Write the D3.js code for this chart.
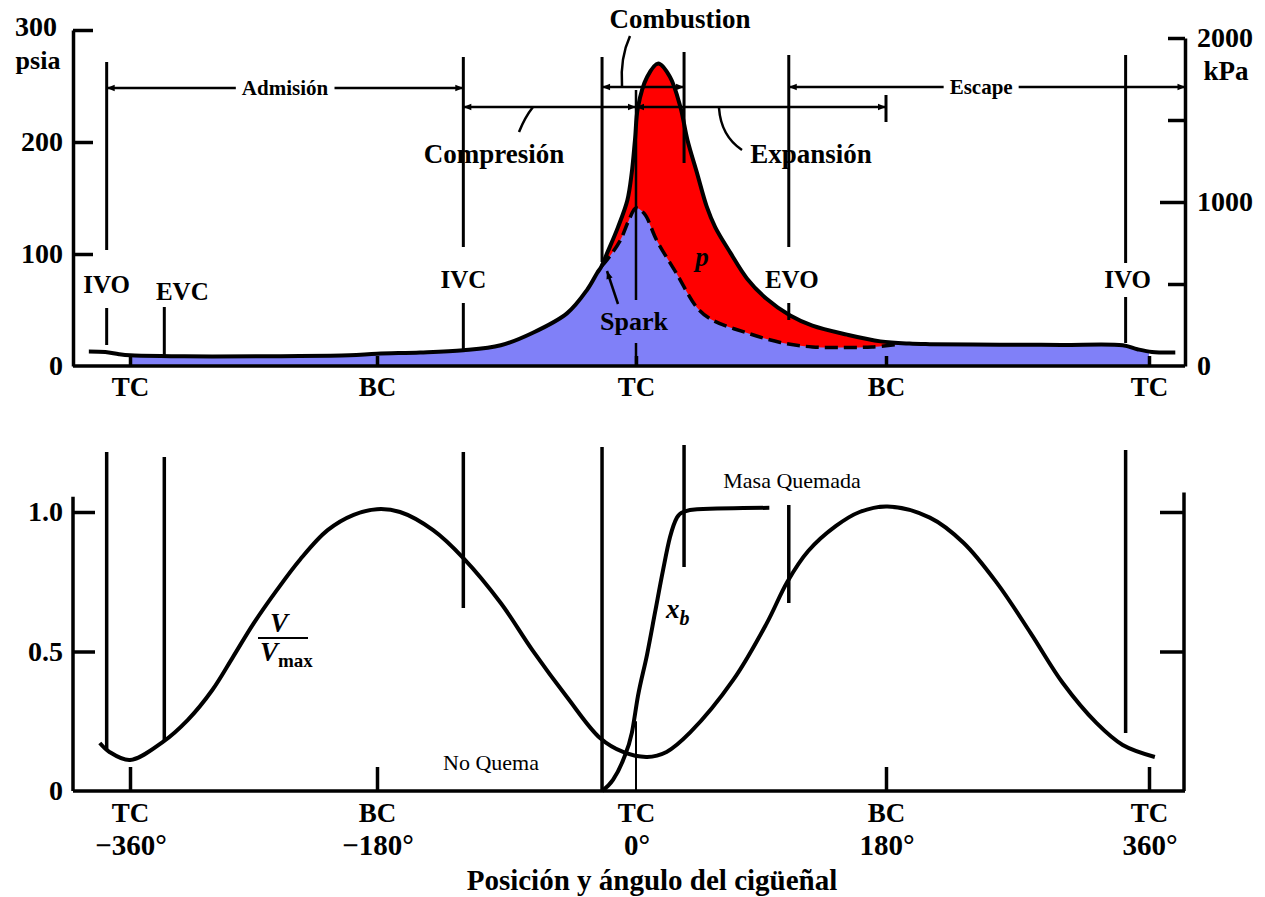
<!DOCTYPE html>
<html>
<head>
<meta charset="utf-8">
<title>Ciclo de cuatro tiempos</title>
<script src="https://d3js.org/d3.v7.min.js"></script>
<style>
  body { margin: 0; background: #fff; }
  text { font-family: "Liberation Serif", "Times New Roman", serif; fill: #000; }
</style>
</head>
<body>
<div id="container"></div>
<script>
// crank angle (deg) vs cylinder pressure (psia), firing cycle
const firingAngle = [-390, -378, -368, -360, -330, -300, -250, -200, -180, -150, -120, -94, -72, -48, -34, -27, -24, -20, -12.5, -6, -3, -0.7, 1.4, 8, 16, 24.5, 32, 37, 44, 51, 57, 68, 80, 94, 111, 127, 152, 176, 196, 210, 258, 300, 342, 352, 362, 378];
const firingPsia  = [13, 12.5, 10.5, 9.5, 8.8, 8.5, 8.8, 9.5, 11, 12, 14, 18.5, 29.5, 47, 68, 83, 89, 101, 124, 148, 172, 202, 231, 258, 270, 258, 231, 202, 172, 142, 124, 101, 78, 60, 45, 36, 28, 22, 20, 19.5, 19, 18.8, 18.5, 15, 12.5, 12];

// motored (no combustion) pressure, psia
const motoredAngle = [-360, -330, -300, -250, -200, -180, -150, -120, -94, -72, -48, -34, -27, -24, -20, -11, -5, 0, 6, 15, 29, 44, 55, 80, 104, 127, 150, 170, 190, 210, 258, 300, 342, 352, 360];
const motoredPsia  = [9.5, 8.8, 8.5, 8.8, 9.5, 11, 12, 14, 18.5, 29.5, 47, 68, 83, 89, 95, 112, 130, 141, 136, 112, 83, 52, 41, 29.5, 21, 17, 16.5, 17, 19.5, 19.5, 19, 18.8, 18.5, 15, 13];

// V / Vmax
const volAngle = [-382, -375, -360, -336, -318, -300, -285, -270, -253, -236, -216, -197, -180, -164, -141, -120, -94, -72, -48, -25, -9, 8, 22, 39, 70, 94, 109, 124, 144, 161, 181, 210, 233, 256, 279, 301, 324, 342, 364];
const volRatio = [0.172, 0.14, 0.111, 0.176, 0.254, 0.362, 0.48, 0.60, 0.72, 0.83, 0.935, 0.99, 1.01, 1.0, 0.935, 0.835, 0.674, 0.505, 0.337, 0.19, 0.14, 0.122, 0.14, 0.21, 0.398, 0.60, 0.75, 0.86, 0.95, 1.0, 1.02, 0.98, 0.89, 0.745, 0.566, 0.387, 0.244, 0.165, 0.122];

// mass fraction burned x_b
const burnAngle = [-23.6, -16, -9, -2.8, 1.4, 8, 13.7, 19.4, 24.5, 29.5, 34, 44, 96];
const burnFrac  = [0, 0.04, 0.11, 0.21, 0.34, 0.49, 0.64, 0.79, 0.91, 0.98, 1.0, 1.01, 1.015];

const tickAngles = [-360, -180, 0, 180, 360];
const tickNames = ["TC", "BC", "TC", "BC", "TC"];
const tickDegrees = ["\u2212360°", "\u2212180°", "0°", "180°", "360°"];
const psiaTicks = [0, 100, 200, 300];
const kpaTicks = [0, 500, 1000, 1500, 2000];
const fracTicks = [0, 0.5, 1.0];

const eventNames = ["IVO", "EVC", "IVC", "EVO", "IVO"];
const eventAngles = [-377, -335, -120, 110, 344];
const sparkAngle = -23.6;
const burnEndAngle = 34.6;
const exhaustEndAngle = 385;

const width = 1265, height = 897;
const leftX = 73, rightX = 1185;

const x = d3.scaleLinear().domain(tickAngles).range([130, 377, 636, 886, 1149]);
const yP = d3.scaleLinear().domain([0, 300]).range([366, 30]);
const yK = d3.scaleLinear().domain([0, 2000]).range([366, 38]);
const yV = d3.scaleLinear().domain([0, 1]).range([791, 512]);

const svg = d3.select("#container").append("svg")
    .attr("width", width)
    .attr("height", height);

const defs = svg.append("defs");
defs.append("marker").attr("id", "arr")
    .attr("viewBox", "0 0 10 10").attr("refX", 10).attr("refY", 5)
    .attr("markerWidth", 13).attr("markerHeight", 8).attr("markerUnits", "userSpaceOnUse")
    .attr("orient", "auto-start-reverse")
    .append("path").attr("d", "M0,1L10,5L0,9Z").attr("fill", "#000");

const firing = firingAngle.map((a, i) => [a, firingPsia[i]]);
const motored = motoredAngle.map((a, i) => [a, motoredPsia[i]]);
const vol = volAngle.map((a, i) => [a, volRatio[i]]);
const burn = burnAngle.map((a, i) => [a, burnFrac[i]]);

const smooth = d3.curveCatmullRom.alpha(0.5);

// ---------- top panel: pressure ----------
const areaP = d3.area().curve(smooth)
    .x(d => x(d[0])).y0(yP(0)).y1(d => yP(d[1]));
const lineP = d3.line().curve(smooth)
    .x(d => x(d[0])).y(d => yP(d[1]));

svg.append("path")
    .datum(firing.filter(d => d[0] >= -24 && d[0] <= 196))
    .attr("fill", "#ff0000")
    .attr("d", areaP);

svg.append("path")
    .datum(motored)
    .attr("fill", "#8080f8")
    .attr("d", areaP);

svg.append("path")
    .datum(motored.filter(d => d[0] >= -24 && d[0] <= 190))
    .attr("fill", "none")
    .attr("stroke", "#000")
    .attr("stroke-width", 3.5)
    .attr("stroke-dasharray", "13,6")
    .attr("d", lineP);

svg.append("path")
    .datum(firing)
    .attr("fill", "none")
    .attr("stroke", "#000")
    .attr("stroke-width", 4)
    .attr("d", lineP);

// vertical event markers (top)
function vline(px, y1, y2, w) {
    svg.append("line")
        .attr("x1", px).attr("x2", px).attr("y1", y1).attr("y2", y2)
        .attr("stroke", "#000").attr("stroke-width", w || 3);
}
const topSegs = [
    [eventAngles[0], [[62, 250], [308, 345]]],
    [eventAngles[1], [[307, 355]]],
    [eventAngles[2], [[57, 247], [303, 350]]],
    [sparkAngle, [[57, 262]]],
    [0, [[90, 300], [343, 366]]],
    [burnEndAngle, [[52, 163]]],
    [eventAngles[3], [[55, 247], [303, 320]]],
    [180, [[95, 122]]],
    [eventAngles[4], [[55, 263], [297, 343]]]
];
topSegs.forEach(s => s[1].forEach(seg => vline(x(s[0]), seg[0], seg[1], s[0] === 0 ? 2.5 : 3)));

// event labels
const topLabelY = [293, 300, 288, 288, 288];
const topLabelDx = [0, 18, 0, 3, 2];
eventNames.forEach((n, i) => {
    svg.append("text")
        .attr("x", x(eventAngles[i]) + topLabelDx[i]).attr("y", topLabelY[i])
        .attr("text-anchor", "middle")
        .attr("font-size", 25).attr("font-weight", "bold")
        .text(n);
});

// stroke-phase arrows
function arrowLine(a1, a2, y) {
    svg.append("line")
        .attr("x1", a1).attr("x2", a2).attr("y1", y).attr("y2", y)
        .attr("stroke", "#000").attr("stroke-width", 2.5)
        .attr("marker-start", "url(#arr)").attr("marker-end", "url(#arr)");
}
function gapLabel(txt, cx, y, size) {
    const t = svg.append("text")
        .attr("x", cx).attr("y", y + size * 0.32)
        .attr("text-anchor", "middle")
        .attr("font-size", size).attr("font-weight", "bold")
        .text(txt);
    const b = t.node().getBBox();
    svg.insert("rect", () => t.node())
        .attr("x", b.x - 6).attr("y", y - 4).attr("width", b.width + 12).attr("height", 8)
        .attr("fill", "#fff");
}
arrowLine(x(eventAngles[0]), x(eventAngles[2]), 88);
gapLabel("Admisión", (x(eventAngles[0]) + x(eventAngles[2])) / 2, 88, 21);
arrowLine(x(eventAngles[2]), x(0), 107);
arrowLine(x(0), x(180), 107);
arrowLine(x(sparkAngle), x(burnEndAngle), 87);
arrowLine(x(eventAngles[3]), x(exhaustEndAngle), 87);
gapLabel("Escape", (x(eventAngles[3]) + x(exhaustEndAngle)) / 2 - 6, 87, 21);

// phase names with leader lines
const leader = d => svg.append("path").attr("d", d).attr("fill", "none")
    .attr("stroke", "#000").attr("stroke-width", 2.5);
leader("M533,107 Q525,117 519,132");
leader("M630,36 Q620,58 622,86");
leader("M719,108 Q721,136 742,150");

const bigLabel = (txt, cx, y) => svg.append("text")
    .attr("x", cx).attr("y", y).attr("text-anchor", "middle")
    .attr("font-size", 27).attr("font-weight", "bold").text(txt);
bigLabel("Combustion", 680, 28);
bigLabel("Compresión", 494, 163);
bigLabel("Expansión", 811, 163);
bigLabel("Spark", 634, 330).attr("font-size", 26);

svg.append("line")
    .attr("x1", 618).attr("y1", 304).attr("x2", 607).attr("y2", 271)
    .attr("stroke", "#000").attr("stroke-width", 2.5)
    .attr("marker-end", "url(#arr)");

svg.append("text")
    .attr("x", 702).attr("y", 266).attr("text-anchor", "middle")
    .attr("font-size", 27).attr("font-weight", "bold").attr("font-style", "italic")
    .text("p");

// top axes
function styleAxis(g, size) {
    g.attr("font-family", "Liberation Serif, serif")
        .attr("font-size", size).attr("font-weight", "bold");
    g.selectAll("line").attr("stroke", "#000").attr("stroke-width", 3.5);
    g.selectAll(".domain").attr("stroke", "#000").attr("stroke-width", 3.5);
    g.selectAll("text").attr("fill", "#000");
}
const gPL = svg.append("g").attr("transform", `translate(${leftX},0)`)
    .call(d3.axisLeft(yP).tickValues(psiaTicks).tickSize(-20).tickSizeOuter(0).tickPadding(10).tickFormat(d3.format("d")));
styleAxis(gPL, 28);
gPL.selectAll(".tick").filter(d => d === 0).select("line").remove();
gPL.selectAll(".tick").filter(d => d === 300).select("text").attr("dy", "0.2em").attr("x", -16);

svg.append("text").attr("x", 38).attr("y", 69).attr("text-anchor", "middle")
    .attr("font-size", 26).attr("font-weight", "bold").text("psia");

const gPR = svg.append("g").attr("transform", `translate(${rightX},0)`)
    .call(d3.axisRight(yK).tickValues(kpaTicks).tickSize(-17).tickSizeOuter(0).tickPadding(12)
        .tickFormat(d => d % 1000 === 0 ? d : ""));
styleAxis(gPR, 28);
gPR.selectAll(".tick").filter(d => d === 1000).select("line").attr("x2", -25);
gPR.selectAll(".tick").filter(d => d === 0).select("line").remove();

svg.append("text").attr("x", 1226).attr("y", 80).attr("text-anchor", "middle")
    .attr("font-size", 27).attr("font-weight", "bold").text("kPa");

svg.append("line").attr("x1", leftX).attr("x2", rightX).attr("y1", yP(0)).attr("y2", yP(0))
    .attr("stroke", "#000").attr("stroke-width", 3.5);
const gPB = svg.append("g").attr("transform", `translate(0,${yP(0)})`)
    .call(d3.axisBottom(x).tickValues(tickAngles).tickSize(-10).tickPadding(11)
        .tickFormat((d, i) => tickNames[i]));
styleAxis(gPB, 27);
gPB.select(".domain").remove();

// ---------- bottom panel: volume and burned fraction ----------
const lineV = d3.line().curve(smooth)
    .x(d => x(d[0])).y(d => yV(d[1]));
const lineB = d3.line().curve(d3.curveMonotoneX)
    .x(d => x(d[0])).y(d => yV(d[1]));

const botSegs = [
    [eventAngles[0], 452, 750],
    [eventAngles[1], 457, 740],
    [eventAngles[2], 452, 608],
    [sparkAngle, 447, 791],
    [burnEndAngle, 445, 567],
    [eventAngles[3], 505, 603],
    [eventAngles[4], 450, 733]
];
botSegs.forEach(s => vline(x(s[0]), s[1], s[2], 3.5));
vline(x(0), yV(0.25), yV(0), 2);

svg.append("path")
    .datum(vol)
    .attr("fill", "none")
    .attr("stroke", "#000")
    .attr("stroke-width", 4)
    .attr("d", lineV);

svg.append("path")
    .datum(burn)
    .attr("fill", "none")
    .attr("stroke", "#000")
    .attr("stroke-width", 4)
    .attr("d", lineB);

// axes bottom
svg.append("line").attr("x1", leftX).attr("x2", leftX).attr("y1", yV(1.055)).attr("y2", yV(0))
    .attr("stroke", "#000").attr("stroke-width", 3.5);
svg.append("line").attr("x1", rightX - 1).attr("x2", rightX - 1).attr("y1", yV(1.07)).attr("y2", yV(0))
    .attr("stroke", "#000").attr("stroke-width", 3.5);
svg.append("line").attr("x1", leftX).attr("x2", rightX).attr("y1", yV(0)).attr("y2", yV(0))
    .attr("stroke", "#000").attr("stroke-width", 3.5);

const gVL = svg.append("g").attr("transform", `translate(${leftX},0)`)
    .call(d3.axisLeft(yV).tickValues(fracTicks).tickSize(-22).tickPadding(10)
        .tickFormat(d => d === 0 ? "0" : d.toFixed(1)));
styleAxis(gVL, 28);
gVL.select(".domain").remove();
gVL.selectAll(".tick").filter(d => d === 0).select("line").remove();

const gVR = svg.append("g").attr("transform", `translate(${rightX - 1},0)`)
    .call(d3.axisRight(yV).tickValues([0.5, 1.0]).tickSize(-24).tickFormat(""));
styleAxis(gVR, 28);
gVR.select(".domain").remove();

const gVB = svg.append("g").attr("transform", `translate(0,${yV(0)})`)
    .call(d3.axisBottom(x).tickValues(tickAngles).tickSize(-24).tickPadding(12)
        .tickFormat((d, i) => tickNames[i]));
styleAxis(gVB, 27);
gVB.select(".domain").remove();
gVB.selectAll(".tick").filter(d => d === 0).select("line").remove();

svg.append("g").selectAll("text")
    .data(tickAngles)
    .join("text")
    .attr("x", d => x(d) + 1)
    .attr("y", 855)
    .attr("text-anchor", "middle")
    .attr("font-size", 29).attr("font-weight", "bold")
    .text((d, i) => tickDegrees[i]);

svg.append("text")
    .attr("x", 652).attr("y", 890).attr("text-anchor", "middle")
    .attr("font-size", 29).attr("font-weight", "bold")
    .text("Posición y ángulo del cigüeñal");

svg.append("text")
    .attr("x", 792).attr("y", 488).attr("text-anchor", "middle")
    .attr("font-size", 22).text("Masa Quemada");
svg.append("text")
    .attr("x", 491).attr("y", 770).attr("text-anchor", "middle")
    .attr("font-size", 22).text("No Quema");

// V / Vmax fraction label
svg.append("text").attr("x", 279).attr("y", 632).attr("text-anchor", "middle")
    .attr("font-size", 27).attr("font-weight", "bold").attr("font-style", "italic").text("V");
svg.append("line").attr("x1", 258).attr("x2", 308).attr("y1", 638).attr("y2", 638)
    .attr("stroke", "#000").attr("stroke-width", 2);
const vmax = svg.append("text").attr("x", 260).attr("y", 661)
    .attr("font-size", 27).attr("font-weight", "bold").attr("font-style", "italic");
vmax.append("tspan").text("V");
vmax.append("tspan").attr("dy", 6).attr("font-size", 19).attr("font-style", "normal").attr("font-weight", "bold").text("max");

// x_b label
const xb = svg.append("text").attr("x", 666).attr("y", 618)
    .attr("font-size", 27).attr("font-weight", "bold").attr("font-style", "italic");
xb.append("tspan").text("x");
xb.append("tspan").attr("dy", 7).attr("font-size", 20).text("b");
</script>
</body>
</html>
